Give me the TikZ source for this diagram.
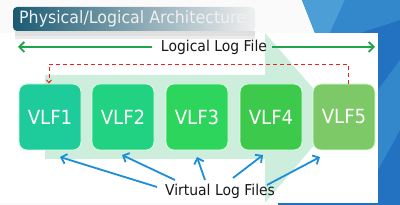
\documentclass[tikz,border=0pt]{standalone}
\usepackage{fontspec}
\setmainfont[FakeStretch=0.93]{DejaVu Sans}
\usetikzlibrary{arrows.meta}
\definecolor{bgblue}{HTML}{2372C2}
\definecolor{bgblueL}{HTML}{4C9FD6}
\definecolor{bgblueM}{HTML}{3388CC}
\definecolor{pale}{HTML}{CDEEDD}
\definecolor{titleL}{HTML}{1A5A72}
\definecolor{titleR}{HTML}{F0F0F0}
\definecolor{cA}{HTML}{1ECB9B}
\definecolor{cB}{HTML}{20D282}
\definecolor{cC}{HTML}{2ED55C}
\definecolor{cD}{HTML}{3DC94B}
\definecolor{cE}{HTML}{7EC967}
\definecolor{lgreen}{HTML}{1FA54A}
\definecolor{vblue}{HTML}{1C8ED8}
\definecolor{dred}{HTML}{E82222}
\begin{document}
\begin{tikzpicture}[x=1pt,y=-1pt,
  vlf/.style={rounded corners=8pt, minimum width=62pt, minimum height=66pt,
    draw=white!85!green, line width=0.8pt, text=white, font=\fontsize{19.5}{21}\selectfont, inner sep=0pt},
  garrow/.style={draw=lgreen, line width=1.8pt, -{Straight Barb[length=5pt,width=10pt,line width=1.8pt]}},
  barrow/.style={draw=vblue, line width=1.8pt, -{Straight Barb[length=5pt,width=10pt,line width=1.8pt]}},
  rdash/.style={draw=dred, line width=0.9pt, dash pattern=on 4pt off 3pt, -{Straight Barb[length=3pt,width=5pt]}},
  lbl/.style={text=black!90, font=\fontsize{15}{17}\selectfont, inner sep=0pt}]
\useasboundingbox (0,0) rectangle (400,205);
% background
\fill[white!96!gray] (0,0) rectangle (400,205);
\fill[bgblue] (302,0) -- (400,0) -- (400,205) -- (278,205) -- (278,190) -- (315,33) -- cycle;
\fill[bgblueL] (302,0) -- (345,0) -- (330,33) -- (315,33) -- cycle;
\fill[bgblueM] (345,0) -- (400,0) -- (400,20) -- (360,33) -- (330,33) -- cycle;
\fill[bgblueM] (378,90) -- (400,60) -- (400,130) -- (378,170) -- cycle;
% white panel
\fill[white] (0,33) rectangle (378,203);
% pale big arrow
\fill[pale] (45,75) -- (265,75) -- (265,33) -- (338,117) -- (265,203) -- (265,159) -- (45,159) -- cycle;
% title bar
\fill[gray!40, opacity=0.6] (15,31) rectangle (255,36);
\fill[gray!25, opacity=0.6] (15,36) rectangle (255,39);
\shade[left color=titleL, right color=titleR, rounded corners=4pt] (13,7) rectangle (255,31);
\node[anchor=west, text=white!88!gray, font=\fontsize{17}{19}\selectfont, inner sep=0pt] (title) at (19,19) {Physical/Logical Architecture};
% logical log file
\node[lbl] (llf) at (214,47) {Logical Log File};
\coordinate (gl) at (18,47);
\coordinate (gr) at (375,47);
\coordinate (gls) at (152,47);
\coordinate (grs) at (272,47);
\draw[garrow] (gls) -- (gl);
\draw[garrow] (grs) -- (gr);
% boxes
\node[vlf, fill=cA] (v1) at (50,117) {VLF1};
\node[vlf, fill=cB] (v2) at (123,117) {VLF2};
\node[vlf, fill=cC] (v3) at (197,117) {VLF3};
\node[vlf, fill=cD] (v4) at (271,117) {VLF4};
\node[vlf, fill=cE] (v5) at (344,117) {VLF5};
% red dashed loop
\coordinate (r5) at ([xshift=4pt]v5.north);
\coordinate (r1) at ([xshift=-1pt]v1.north);
\coordinate (rt) at (0,64);
\draw[rdash] (r5) -- (r5 |- rt) -- (r1 |- rt) -- (r1);
% virtual log files
\node[lbl] (vl) at (220,191) {Virtual Log Files};
\coordinate (s1) at (157,187); \coordinate (t1) at (60,157);
\coordinate (s2) at (175,180); \coordinate (t2) at (122,155);
\coordinate (s3) at (205,180); \coordinate (t3) at (197,157);
\coordinate (s4) at (233,178); \coordinate (t4) at (263,155);
\coordinate (s5) at (267,185); \coordinate (t5) at (320,157);
\draw[barrow] (s1) -- (t1);
\draw[barrow] (s2) -- (t2);
\draw[barrow] (s3) -- (t3);
\draw[barrow] (s4) -- (t4);
\draw[barrow] (s5) -- (t5);
\end{tikzpicture}
\end{document}
